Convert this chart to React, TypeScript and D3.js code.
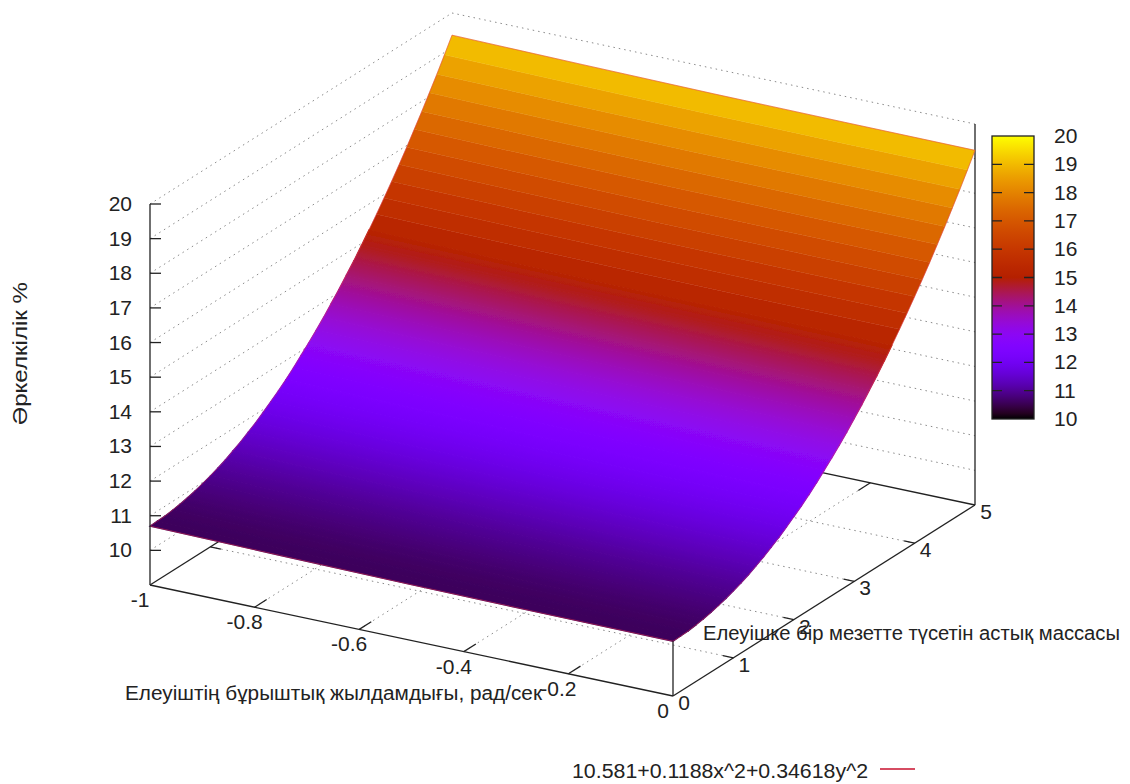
import * as d3 from 'd3'

const WIDTH = 1130
const HEIGHT = 784

// tick labels
const xTicks = [-1, -0.8, -0.6, -0.4, -0.2, 0]
const yTicks = [0, 1, 2, 3, 4, 5]
const zTicks = [10, 11, 12, 13, 14, 15, 16, 17, 18, 19, 20]
const cbTicks = [10, 11, 12, 13, 14, 15, 16, 17, 18, 19, 20]

// surface, at angular speed 0
const massGrid = [
  0, 0.125, 0.25, 0.375, 0.5, 0.625, 0.75, 0.875, 1, 1.125, 1.25, 1.375, 1.5, 1.625, 1.75, 1.875, 2, 2.125, 2.25,
  2.375, 2.5, 2.625, 2.75, 2.875, 3, 3.125, 3.25, 3.375, 3.5, 3.625, 3.75, 3.875, 4, 4.125, 4.25, 4.375, 4.5, 4.625,
  4.75, 4.875, 5,
]
const unevenness = [
  10.58, 10.59, 10.6, 10.63, 10.67, 10.72, 10.78, 10.85, 10.93, 11.02, 11.12, 11.24, 11.36, 11.5, 11.64, 11.8, 11.97,
  12.14, 12.33, 12.53, 12.75, 12.97, 13.2, 13.44, 13.7, 13.96, 14.24, 14.52, 14.82, 15.13, 15.45, 15.78, 16.12, 16.47,
  16.83, 17.21, 17.59, 17.99, 18.39, 18.81, 19.24,
]

// small rise of the surface across the angular speed axis
const speedGrid = [-1, -0.75, -0.5, -0.25, 0]
const speedRise = [0.12, 0.07, 0.03, 0.01, 0]

const xLabel = 'Елеуіштің бұрыштық жылдамдығы, рад/сек'
const yLabel = 'Елеуішке бір мезетте түсетін астық массасы'
const zLabel = 'Әркелкілік %'
const keyLabel = '10.581+0.1188x^2+0.34618y^2'

const FONT = '"Liberation Sans", "DejaVu Sans", sans-serif'
const TEXT = '#222'
const AXIS = '#222'
const GRID = '#8a8a8a'
const BAND_FROM = 15 // colour steps only show above this level

// oblique projection of the 3d box
const ORIGIN = { x: 150, y: 585 }
const xAlong = d3.scaleLinear().domain([-1, 0]).range([0, 1])
const yAlong = d3.scaleLinear().domain([0, 5]).range([0, 1])
const zPixel = d3.scaleLinear().domain([9, 20]).range([0, -381])

function project(x: number, y: number, z: number): [number, number] {
  const a = xAlong(x)
  const b = yAlong(y)
  return [ORIGIN.x + a * 523 + b * 302, ORIGIN.y + a * 111 - b * 191 + zPixel(z)]
}

// gnuplot default pm3d palette
function palette(t: number) {
  const g = Math.max(0, Math.min(1, t))
  const b = Math.max(0, Math.sin(2 * Math.PI * g))
  return d3.rgb(Math.sqrt(g) * 255, g * g * g * 255, b * 255).formatHex()
}

const cbColor = d3.scaleLinear().domain([10, 20]).range([0, 1])
const cbY = d3.scaleLinear().domain([10, 20]).range([419, 136])
const line3d = d3.line()

function seg(from: [number, number, number], to: [number, number, number]) {
  return line3d([project(...from), project(...to)]) as string
}

export default function App() {
  // one polygon per strip, so no seams show across the speed axis
  const strips = massGrid.slice(0, -1).map((m, i) => {
    const near = speedGrid.map((s, j) => project(s, m, unevenness[i] + speedRise[j]))
    const far = speedGrid.map((s, j) => project(s, massGrid[i + 1], unevenness[i + 1] + speedRise[j]))
    // gradient runs square to the strip, from its lower edge to its upper edge
    const a = near[2]
    const b = far[2]
    const ex = near[4][0] - near[0][0]
    const ey = near[4][1] - near[0][1]
    const len2 = ex * ex + ey * ey
    const along = ((b[0] - a[0]) * ex + (b[1] - a[1]) * ey) / len2
    const mean = (unevenness[i] + unevenness[i + 1]) / 2
    return {
      d: `${line3d([...near, ...[...far].reverse()])}Z`,
      flat: mean >= BAND_FROM ? palette(cbColor(mean)) : null,
      from: palette(cbColor(unevenness[i])),
      to: palette(cbColor(unevenness[i + 1])),
      x1: a[0],
      y1: a[1],
      x2: b[0] - along * ex,
      y2: b[1] - along * ey,
    }
  })

  const edgeFront = speedGrid.map((s, j) => project(s, 0, unevenness[0] + speedRise[j]))
  const edgeBack = speedGrid.map((s, j) => project(s, 5, unevenness[40] + speedRise[j]))
  const edgeLeft = massGrid.map((m, i) => project(-1, m, unevenness[i] + speedRise[0]))
  const edgeRight = massGrid.map((m, i) => project(0, m, unevenness[i]))

  const cbStops = d3.range(0, 1.001, 0.02)

  return (
    <svg
      width={WIDTH}
      height={HEIGHT}
      viewBox={`0 0 ${WIDTH} ${HEIGHT}`}
      style={{ position: 'absolute', left: 0, top: 0, background: '#fff' }}
      fontFamily={FONT}
    >
      <defs>
        <filter id="soft" x="-2%" y="-2%" width="104%" height="104%">
          <feGaussianBlur stdDeviation="0.6" />
        </filter>
        <linearGradient id="cb" x1="0" y1="1" x2="0" y2="0">
          {cbStops.map((t) => (
            <stop key={t} offset={t} stopColor={palette(t)} />
          ))}
        </linearGradient>
        {strips.map((c, i) =>
          c.flat ? null : (
            <linearGradient
              key={i}
              id={`strip${i}`}
              gradientUnits="userSpaceOnUse"
              x1={c.x1}
              y1={c.y1}
              x2={c.x2}
              y2={c.y2}
            >
              <stop offset={0} stopColor={c.from} />
              <stop offset={1} stopColor={c.to} />
            </linearGradient>
          ),
        )}
      </defs>

      {/* dotted grid on base and back walls */}
      <g fill="none" stroke={GRID} strokeWidth={1} strokeDasharray="1.5 4">
        {xTicks.slice(1, -1).map((x) => (
          <path key={`gx${x}`} d={seg([x, 0, 9], [x, 5, 9])} />
        ))}
        {yTicks.slice(1, -1).map((y) => (
          <path key={`gy${y}`} d={seg([-1, y, 9], [0, y, 9])} />
        ))}
        {zTicks.map((z) => (
          <g key={`gz${z}`}>
            <path d={seg([-1, 0, z], [-1, 5, z])} />
            <path d={seg([-1, 5, z], [0, 5, z])} />
          </g>
        ))}
      </g>

      {/* base frame */}
      <g fill="none" stroke={AXIS} strokeWidth={1.3}>
        <path d={seg([-1, 0, 9], [-1, 5, 9])} />
        <path d={seg([-1, 5, 9], [0, 5, 9])} />
        <path d={seg([0, 5, 9], [0, 5, 20])} />
        {yTicks.slice(1, -1).map((y) => (
          <path key={`by${y}`} d={seg([-1, y, 9], [-0.98, y, 9])} />
        ))}
        {xTicks.slice(1, -1).map((x) => (
          <path key={`bx${x}`} d={seg([x, 5, 9], [x, 4.8, 9])} />
        ))}
      </g>

      {/* surface: strips painted bottom up, each overlapping the last */}
      <g filter="url(#soft)">
        {strips.map((c, i) => {
          const paint = c.flat ?? `url(#strip${i})`
          return <path key={i} d={c.d} fill={paint} stroke={paint} strokeWidth={c.flat ? 0.4 : 1.2} />
        })}
      </g>
      <g fill="none" stroke="#e0304a" strokeWidth={0.9} strokeOpacity={0.55}>
        <path d={line3d(edgeFront) as string} />
        <path d={line3d(edgeBack) as string} />
        <path d={line3d(edgeLeft) as string} />
        <path d={line3d(edgeRight) as string} />
      </g>

      {/* front axes */}
      <g fill="none" stroke={AXIS} strokeWidth={1.3}>
        <path d={seg([-1, 0, 9], [0, 0, 9])} />
        <path d={seg([0, 0, 9], [0, 5, 9])} />
        <path d={seg([-1, 0, 9], [-1, 0, 20])} />
        <path d={seg([0, 0, 9], [0, 0, unevenness[0]])} />
        {xTicks.slice(1, -1).map((x) => (
          <path key={`tx${x}`} d={seg([x, 0, 9], [x, 0.2, 9])} />
        ))}
        {yTicks.slice(1, -1).map((y) => (
          <path key={`ty${y}`} d={seg([0, y, 9], [-0.02, y, 9])} />
        ))}
        {zTicks.map((z) => {
          const [px, py] = project(-1, 0, z)
          return <path key={`tz${z}`} d={`M${px},${py}H${px + 11}`} />
        })}
      </g>

      {/* tick labels */}
      <g fontSize={21} fill={TEXT}>
        {zTicks.map((z) => {
          const [px, py] = project(-1, 0, z)
          return (
            <text key={`lz${z}`} x={px - 18} y={py + 7} textAnchor="end">
              {z}
            </text>
          )
        })}
        {xTicks.map((x) => {
          const [px, py] = project(x, 0, 9)
          return (
            <text key={`lx${x}`} x={px - 10} y={py + 22} textAnchor="middle">
              {String(x)}
            </text>
          )
        })}
        {yTicks.map((y) => {
          const [px, py] = project(0, y, 9)
          return (
            <text key={`ly${y}`} x={px + 11} y={py + 14} textAnchor="middle">
              {y}
            </text>
          )
        })}
      </g>

      {/* axis titles */}
      <g fontSize={20} fill={TEXT}>
        <text x={125} y={700} textLength={417} lengthAdjust="spacingAndGlyphs">
          {xLabel}
        </text>
        <text x={703} y={640} textLength={417} lengthAdjust="spacingAndGlyphs">
          {yLabel}
        </text>
        <text
          transform="translate(27,425) rotate(-90)"
          textLength={143}
          lengthAdjust="spacingAndGlyphs"
        >
          {zLabel}
        </text>
        <text x={572} y={778} textLength={296} lengthAdjust="spacingAndGlyphs">
          {keyLabel}
        </text>
      </g>
      <line x1={880} x2={915} y1={769} y2={769} stroke="#c8102e" strokeWidth={1.3} />

      {/* colour box */}
      <g>
        <rect x={992} y={136} width={42} height={283} fill="url(#cb)" stroke={AXIS} strokeWidth={1.3} />
        {cbTicks.slice(1, -1).map((v) => (
          <path
            key={v}
            d={`M992,${cbY(v)}h10M1034,${cbY(v)}h-10`}
            stroke={AXIS}
            strokeWidth={1.3}
            fill="none"
          />
        ))}
        <g fontSize={21} fill={TEXT}>
          {cbTicks.map((v) => (
            <text key={v} x={1054} y={cbY(v) + 7}>
              {v}
            </text>
          ))}
        </g>
      </g>
    </svg>
  )
}
